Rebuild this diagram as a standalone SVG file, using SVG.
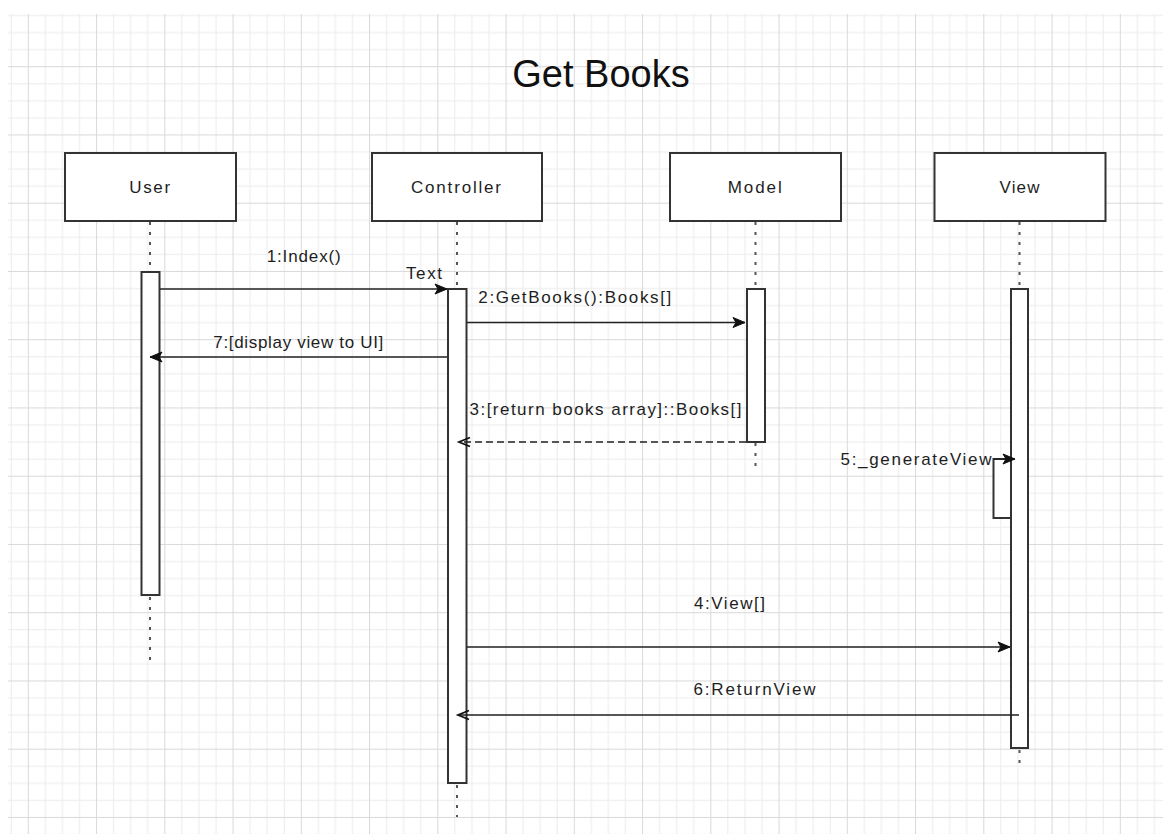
<svg xmlns="http://www.w3.org/2000/svg" width="1163" height="834" viewBox="0 0 1163 834">
  <style>
    .hdr { fill: #ffffff; stroke: #333333; stroke-width: 2; }
    .act { fill: #ffffff; stroke: #333333; stroke-width: 2; }
    .life { stroke: #555555; stroke-width: 2; stroke-dasharray: 3 7; fill: none; }
    .lbl { font-family: "Liberation Sans", Arial, sans-serif; font-size: 17px; fill: #1e1e1e; }
    .msg { stroke: #222222; stroke-width: 1.6; fill: none; }
    .ret { stroke: #222222; stroke-width: 1.6; fill: none; stroke-dasharray: 7 4; }
    .title { font-family: "Liberation Sans", Arial, sans-serif; font-size: 38px; fill: #111111; }
  </style>
  <defs>
    <pattern id="grid" patternUnits="userSpaceOnUse" x="27.8" y="66.2" width="68.25" height="68.25">
      <rect x="0" y="0" width="68.25" height="68.25" fill="#ffffff"/>
      <g fill="#ececec">
        <rect x="17.06" y="0" width="1" height="68.25"/>
        <rect x="34.12" y="0" width="1" height="68.25"/>
        <rect x="51.19" y="0" width="1" height="68.25"/>
        <rect x="0" y="17.06" width="68.25" height="1"/>
        <rect x="0" y="34.12" width="68.25" height="1"/>
        <rect x="0" y="51.19" width="68.25" height="1"/>
      </g>
      <g fill="#d9d9d9">
        <rect x="0" y="0" width="1" height="68.25"/>
        <rect x="0" y="0" width="68.25" height="1"/>
      </g>
    </pattern>
    <marker id="filled" markerUnits="userSpaceOnUse" markerWidth="13" markerHeight="11" refX="12" refY="5" orient="auto" overflow="visible">
      <path d="M0,0 L12,5 L0,10 L3,5 Z" fill="#111111" stroke="#111111" stroke-width="1"/>
    </marker>
    <marker id="open" markerUnits="userSpaceOnUse" markerWidth="13" markerHeight="11" refX="12" refY="5" orient="auto" overflow="visible">
      <path d="M1,0.5 L12,5 L1,9.5" fill="none" stroke="#111111" stroke-width="1.8"/>
    </marker>
  </defs>

  <rect x="0" y="0" width="1163" height="834" fill="#ffffff"/>
  <rect x="8" y="14" width="1155" height="820" fill="url(#grid)"/>

  <text class="title" x="601" y="87" text-anchor="middle">Get Books</text>

  <g id="user">
    <line class="life" x1="150" y1="222" x2="150" y2="271"/>
    <line class="life" x1="150" y1="597" x2="150" y2="663"/>
    <rect class="hdr" x="65" y="153" width="171" height="68"/>
    <text class="lbl" x="149.7" y="193" text-anchor="middle" textLength="41" lengthAdjust="spacing">User</text>
    <rect class="act" x="141.5" y="272" width="18" height="323"/>
  </g>

  <g id="controller">
    <line class="life" x1="457" y1="222" x2="457" y2="288"/>
    <line class="life" x1="457" y1="785" x2="457" y2="817"/>
    <rect class="hdr" x="372" y="153" width="170" height="68"/>
    <text class="lbl" x="456" y="193" text-anchor="middle" textLength="90" lengthAdjust="spacing">Controller</text>
    <rect class="act" x="448" y="289" width="18.5" height="494"/>
  </g>

  <g id="model">
    <line class="life" x1="755.5" y1="222" x2="755.5" y2="288"/>
    <line class="life" x1="755.5" y1="443" x2="755.5" y2="472"/>
    <rect class="hdr" x="670" y="153" width="171" height="68"/>
    <text class="lbl" x="754.7" y="193" text-anchor="middle" textLength="54" lengthAdjust="spacing">Model</text>
    <rect class="act" x="747" y="289" width="18" height="153"/>
  </g>

  <g id="view">
    <line class="life" x1="1019.5" y1="222" x2="1019.5" y2="288"/>
    <line class="life" x1="1019.5" y1="750" x2="1019.5" y2="766"/>
    <rect class="hdr" x="934.5" y="153" width="171" height="68"/>
    <text class="lbl" x="1019.5" y="193" text-anchor="middle" textLength="40" lengthAdjust="spacing">View</text>
    <rect class="act" x="1011" y="289" width="17" height="459"/>
    <rect class="act" x="993.5" y="459" width="17.5" height="59"/>
  </g>

  <g id="connectors">
    <line class="msg" x1="160" y1="289" x2="447" y2="289" marker-end="url(#filled)"/>
    <text class="lbl" x="303.7" y="262" text-anchor="middle" textLength="74" lengthAdjust="spacing">1:Index()</text>
    <text class="lbl" x="424" y="279" text-anchor="middle" textLength="36" lengthAdjust="spacing">Text</text>

    <line class="msg" x1="467" y1="322.5" x2="745" y2="322.5" marker-end="url(#filled)"/>
    <text class="lbl" x="574.8" y="303" text-anchor="middle" textLength="193" lengthAdjust="spacing">2:GetBooks():Books[]</text>

    <line class="msg" x1="447" y1="357" x2="150" y2="357" marker-end="url(#filled)"/>
    <text class="lbl" x="298.3" y="348" text-anchor="middle" textLength="170" lengthAdjust="spacing">7:[display view to UI]</text>

    <line class="ret" x1="746" y1="442" x2="459" y2="442" marker-end="url(#open)"/>
    <text class="lbl" x="605.5" y="415" text-anchor="middle" textLength="272" lengthAdjust="spacing">3:[return books array]::Books[]</text>

    <line class="msg" x1="993.5" y1="459" x2="1015" y2="459" marker-end="url(#filled)"/>
    <text class="lbl" x="991.5" y="465" text-anchor="end" textLength="151" lengthAdjust="spacing">5:_generateView</text>

    <line class="msg" x1="467" y1="647" x2="1010" y2="647" marker-end="url(#filled)"/>
    <text class="lbl" x="729.5" y="609" text-anchor="middle" textLength="71" lengthAdjust="spacing">4:View[]</text>

    <line class="msg" x1="1019" y1="715" x2="458" y2="715" marker-end="url(#open)"/>
    <text class="lbl" x="693.5" y="695" textLength="122" lengthAdjust="spacing">6:ReturnView</text>
  </g>
</svg>
